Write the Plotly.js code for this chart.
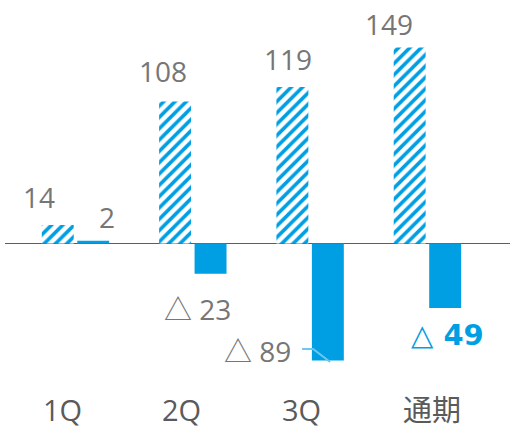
<!DOCTYPE html>
<html>
<head>
<meta charset="utf-8">
<script src="https://cdn.plot.ly/plotly-3.0.1.min.js"></script>
<style>html,body{margin:0;padding:0;background:#fff;}#chart{width:510px;height:429px;}</style>
</head>
<body>
<div id="chart"></div>
<script>
// ---- data ----
const categories = ['1Q', '2Q', '3Q', '通期'];
const hatchedValues = [14, 108, 119, 149];
const solidValues = [2, -23, -89, -49];

// ---- style ----
const BLUE = '#009fe3';
const GRAY = '#767676';
const FONT = 'Open Sans, Noto Sans CJK JP, sans-serif';
const hatchedShift = [[-36.5, 28], [-30, 30.5], [-22, 28], [-38.4, 23.6]];
const solidShift = [[31.5, 24], [4.2, -35.3], [-53, 9.5], [19.6, -27]];
const catShift = [-13, -11, -9, 4.6];

function fmt(v) { return v < 0 ? '△ ' + Math.abs(v) : String(v); }

const traces = [
  {
    type: 'bar', x: categories, y: hatchedValues,
    marker: { color: '#ffffff', line: { width: 0 },
      pattern: { shape: '/', fgcolor: BLUE, bgcolor: '#ffffff', size: 8, solidity: 0.45 } },
    hoverinfo: 'skip'
  },
  {
    type: 'bar', x: categories, y: solidValues,
    marker: { color: BLUE, line: { width: 0 } },
    hoverinfo: 'skip'
  }
];

const annotations = [];
hatchedValues.forEach((v, i) => {
  annotations.push({ x: categories[i], y: v, xref: 'x', yref: 'y', text: fmt(v), showarrow: false,
    xanchor: 'center', yanchor: 'middle', xshift: hatchedShift[i][0], yshift: hatchedShift[i][1],
    font: { family: FONT, size: 28, color: GRAY } });
});
solidValues.forEach((v, i) => {
  const last = i === solidValues.length - 1;
  annotations.push({ x: categories[i], y: v, xref: 'x', yref: 'y',
    text: last ? '<b>' + fmt(v) + '</b>' : fmt(v), showarrow: false,
    xanchor: 'center', yanchor: 'middle', xshift: solidShift[i][0], yshift: solidShift[i][1],
    font: { family: last ? 'DejaVu Sans, Noto Sans CJK JP, sans-serif' : FONT, size: last ? 29 : 28, color: last ? BLUE : GRAY } });
});
categories.forEach((c, i) => {
  annotations.push({ x: c, y: 0.045, xref: 'x', yref: 'paper', text: c, showarrow: false,
    xanchor: 'center', yanchor: 'middle', xshift: catShift[i],
    font: { family: FONT, size: 29, color: '#5a5a5a' } });
});

// leader line for the 3Q negative label (pixel offsets relative to the bar end)
const shapes = [{
  type: 'path', xref: 'x', yref: 'y', xsizemode: 'pixel', ysizemode: 'pixel',
  xanchor: 2, yanchor: solidValues[2],
  path: 'M -8 11.5 L 3 11.5 L 20 -1.5',
  line: { color: '#6cc8ef', width: 2 }
}];

const layout = {
  width: 510, height: 429,
  margin: { l: 5, r: 0, t: 0, b: 0 },
  paper_bgcolor: '#ffffff', plot_bgcolor: '#ffffff',
  showlegend: false,
  barmode: 'group', bargap: 0.395, bargroupgap: 0.1,
  xaxis: { type: 'category', range: [-0.601, 3.704], showticklabels: false, showgrid: false,
    zeroline: false, showline: false, ticks: '' },
  yaxis: { range: [-141.1, 185.2], showticklabels: false, showgrid: false,
    zeroline: true, zerolinecolor: '#2b6e8c', zerolinewidth: 1.5, showline: false, ticks: '' },
  annotations: annotations,
  shapes: shapes
};

Plotly.newPlot('chart', traces, layout, { displayModeBar: false, staticPlot: true });
</script>
</body>
</html>
